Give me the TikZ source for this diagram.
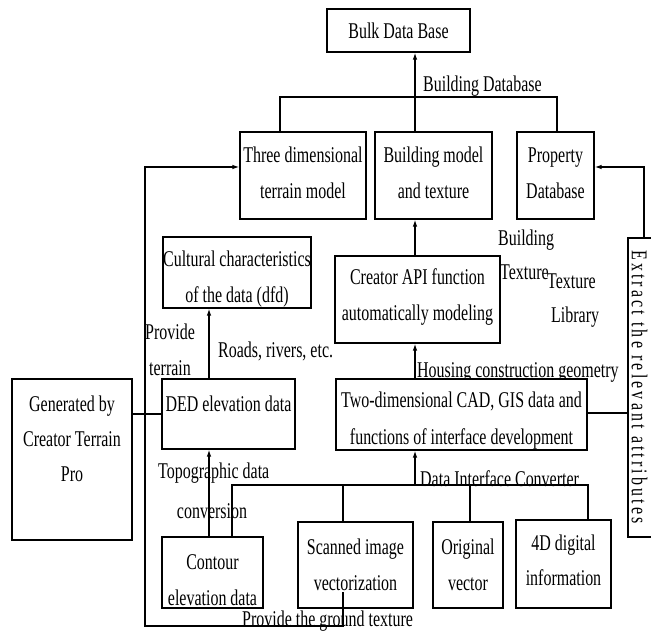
\documentclass[tikz,border=0pt]{standalone}
\usepackage{fontspec}
\setmainfont{Liberation Serif}[FakeStretch=0.71]
\newfontfamily\extractfont{Liberation Serif}[FakeStretch=0.71,LetterSpace=14]
\usetikzlibrary{arrows.meta}
\newcommand\mybox[5]{\node[box,minimum width=#4pt-#2pt,minimum height=#5pt-#3pt] (#1) at ({(#2+#4)/2},{(#3+#5)/2}) {};}
\begin{document}
\begin{tikzpicture}[x=1pt,y=-1pt,
  box/.style={draw,line width=1.1pt,fill=white,inner sep=0pt},
  txt/.style={font=\fontsize{22.5}{36}\selectfont,align=center,inner sep=0pt},
  conn/.style={line width=1.1pt},
  arr/.style={line width=1.3pt,-{Latex[length=7pt,width=4.5pt]}}]
\useasboundingbox (0,0) rectangle (651,631);
\clip (0,0) rectangle (651,631);
% text that the 2D box partly covers
\node[txt,anchor=base west] (lhousing) at (417,377) {Housing construction geometry};
% boxes
\mybox{bulk}{327}{9}{470}{52}
\mybox{three}{240}{132}{366}{219}
\mybox{bmodel}{375}{132}{492}{219}
\mybox{prop}{517}{132}{594}{219}
\mybox{cult}{163}{237}{311}{308}
\mybox{creator}{335}{256}{500}{343}
\mybox{gen}{12}{379}{132}{540}
\mybox{ded}{162}{379}{295}{449}
\mybox{twod}{336}{379}{587}{450}
\mybox{extract}{628}{238}{690}{537}
\mybox{contour}{162}{537}{263}{608}
\mybox{scan}{298}{522}{413}{608}
\mybox{orig}{433}{522}{503}{608}
\mybox{fourd}{516}{520}{611}{608}
% texts in boxes
\node[txt] (tbulk) at (398.5,31) {Bulk Data Base};
\node[txt] (tthree) at (303,173) {Three dimensional\\terrain model};
\node[txt] (tbmodel) at (433.5,173) {Building model\\and texture};
\node[txt] (tprop) at (555.5,173) {Property\\Database};
\node[txt] (tcult) at (237,279) {Cultural characteristics\\of the data (dfd)};
\node[txt] (tcreator) at (417.5,297) {Creator API function\\automatically modeling};
\node[txt,font=\fontsize{22.5}{35}\selectfont] (tgen) at (72,439) {Generated by\\Creator Terrain\\Pro};
\node[txt] (tded) at (228.5,404) {DED elevation data};
\node[txt,font=\fontsize{22.5}{37}\selectfont] (ttwod) at (461.5,421) {Two-dimensional CAD, GIS data and\\functions of interface development};
\node[txt] (tcontour) at (212.5,580) {Contour\\elevation data};
\node[txt] (tscan) at (355.5,565) {Scanned image\\vectorization};
\node[txt] (torig) at (468,565) {Original\\vector};
\node[txt,font=\fontsize{22.5}{35}\selectfont] (tfourd) at (563.5,560.5) {4D digital\\information};
\node[txt,rotate=-90,font=\extractfont\fontsize{22.5}{36}\selectfont] (textract) at (639.5,387) {Extract the relevant attributes};
% connector coordinates
\coordinate (xA) at (415,0);
\coordinate (xB) at (209,0);
\coordinate (bd1) at (280,97);
\coordinate (bd2) at (557,97);
\coordinate (lt) at (145,167);
\coordinate (lb) at (145,626);
\coordinate (gb) at (343,626);
\coordinate (gt) at (343,592);
\coordinate (rt) at (644,167);
\coordinate (yG) at (0,414);
\coordinate (yE) at (0,413);
\coordinate (bus1) at (232,485);
\coordinate (bus2) at (588,485);
\coordinate (xC) at (343,0);
\coordinate (xD) at (470,0);
% connectors
\draw[arr] (xA |- bmodel.north) -- (xA |- bulk.south);
\draw[conn] (bd1 |- three.north) -- (bd1) -- (bd2) -- (bd2 |- prop.north);
\draw[arr] (gt) -- (gb) -- (lb) -- (lt) -- (lt -| three.west);
\draw[arr] (rt |- extract.north) -- (rt) -- (rt -| prop.east);
\draw[arr] (xA |- creator.north) -- (xA |- bmodel.south);
\draw[arr] (xA |- twod.north) -- (xA |- creator.south);
\draw[arr] (xB |- ded.north) -- (xB |- cult.south);
\draw[arr] (xB |- contour.north) -- (xB |- ded.south);
\draw[conn] (gen.east |- yG) -- (ded.west |- yG);
\draw[conn] (twod.east |- yE) -- (extract.west |- yE);
\draw[conn] (bus1 |- contour.north) -- (bus1) -- (bus2) -- (bus2 |- fourd.north);
\draw[conn] (xC |- bus1) -- (xC |- scan.north);
\draw[conn] (xD |- bus1) -- (xD |- orig.north);
\draw[arr] (xA |- bus1) -- (xA |- twod.south);
% free labels
\node[txt,anchor=west] (lbdb) at (423,86) {Building Database};
\node[txt,anchor=west] (lbuilding) at (498,240) {Building};
\node[txt,anchor=west] (ltexture1) at (500,272) {Texture};
\node[txt,anchor=west] (ltexture2) at (547,281) {Texture};
\node[txt,anchor=west] (llibrary) at (551,317) {Library};
\node[txt] (lprovide) at (170,350) {Provide\\terrain};
\node[txt,anchor=west] (lroads) at (218,351) {Roads, rivers, etc.};
\node[txt,anchor=west] (ltopo) at (158,473) {Topographic data};
\node[txt] (lconv) at (212,511) {conversion};
\node[txt,anchor=base west] (ldata) at (420,486) {Data Interface Converter};
\node[txt,anchor=base west] (lground) at (242,626) {Provide the ground texture};
\end{tikzpicture}
\end{document}
